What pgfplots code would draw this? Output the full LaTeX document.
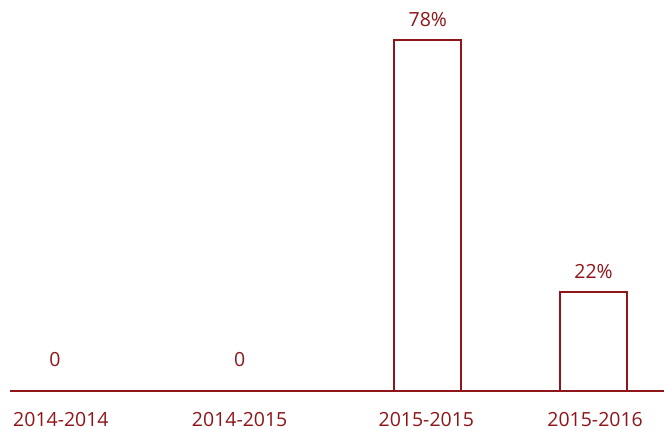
\documentclass[border=0pt]{standalone}
\usepackage{fontspec}
\setmainfont{Open Sans}
\usepackage{pgfplots}
\pgfplotsset{compat=1.18}
\definecolor{dred}{HTML}{8E1519}
\begin{document}
\begin{tikzpicture}
\begin{axis}[
  x=1bp, y=4.513bp,
  xmin=10, xmax=665, ymin=0, ymax=86.86,
  axis x line*=bottom, axis y line=none,
  x axis line style={dred, line width=2bp, -},
  xtick={61,240,427,596},
  xticklabels={2014-2014,2014-2015,2015-2015,2015-2016},
  major tick length=0pt,
  /pgf/number format/assume math mode=true,
  xticklabel style={text=dred, font=\fontsize{19.5bp}{22bp}\selectfont, yshift=-17bp},
  clip=false,
  every node near coord/.append style={text=dred, font=\fontsize{19.5bp}{22bp}\selectfont},
]
\addplot[ybar, bar width=67bp, draw=dred, fill=white, line width=2bp,
  nodes near coords={\pgfmathprintnumber{\pgfplotspointmeta}\%},
  every node near coord/.append style={yshift=9bp}]
  coordinates {(428.5,78) (594.5,22)};
\addplot[only marks, mark=none, draw=none,
  nodes near coords={0},
  every node near coord/.append style={yshift=21bp}]
  coordinates {(55,0) (240,0)};
\coordinate (bl) at (axis cs:0,-8.64);
\coordinate (tr) at (axis cs:665,86.86);
\end{axis}
\useasboundingbox (bl) rectangle (tr);
\end{tikzpicture}
\end{document}
